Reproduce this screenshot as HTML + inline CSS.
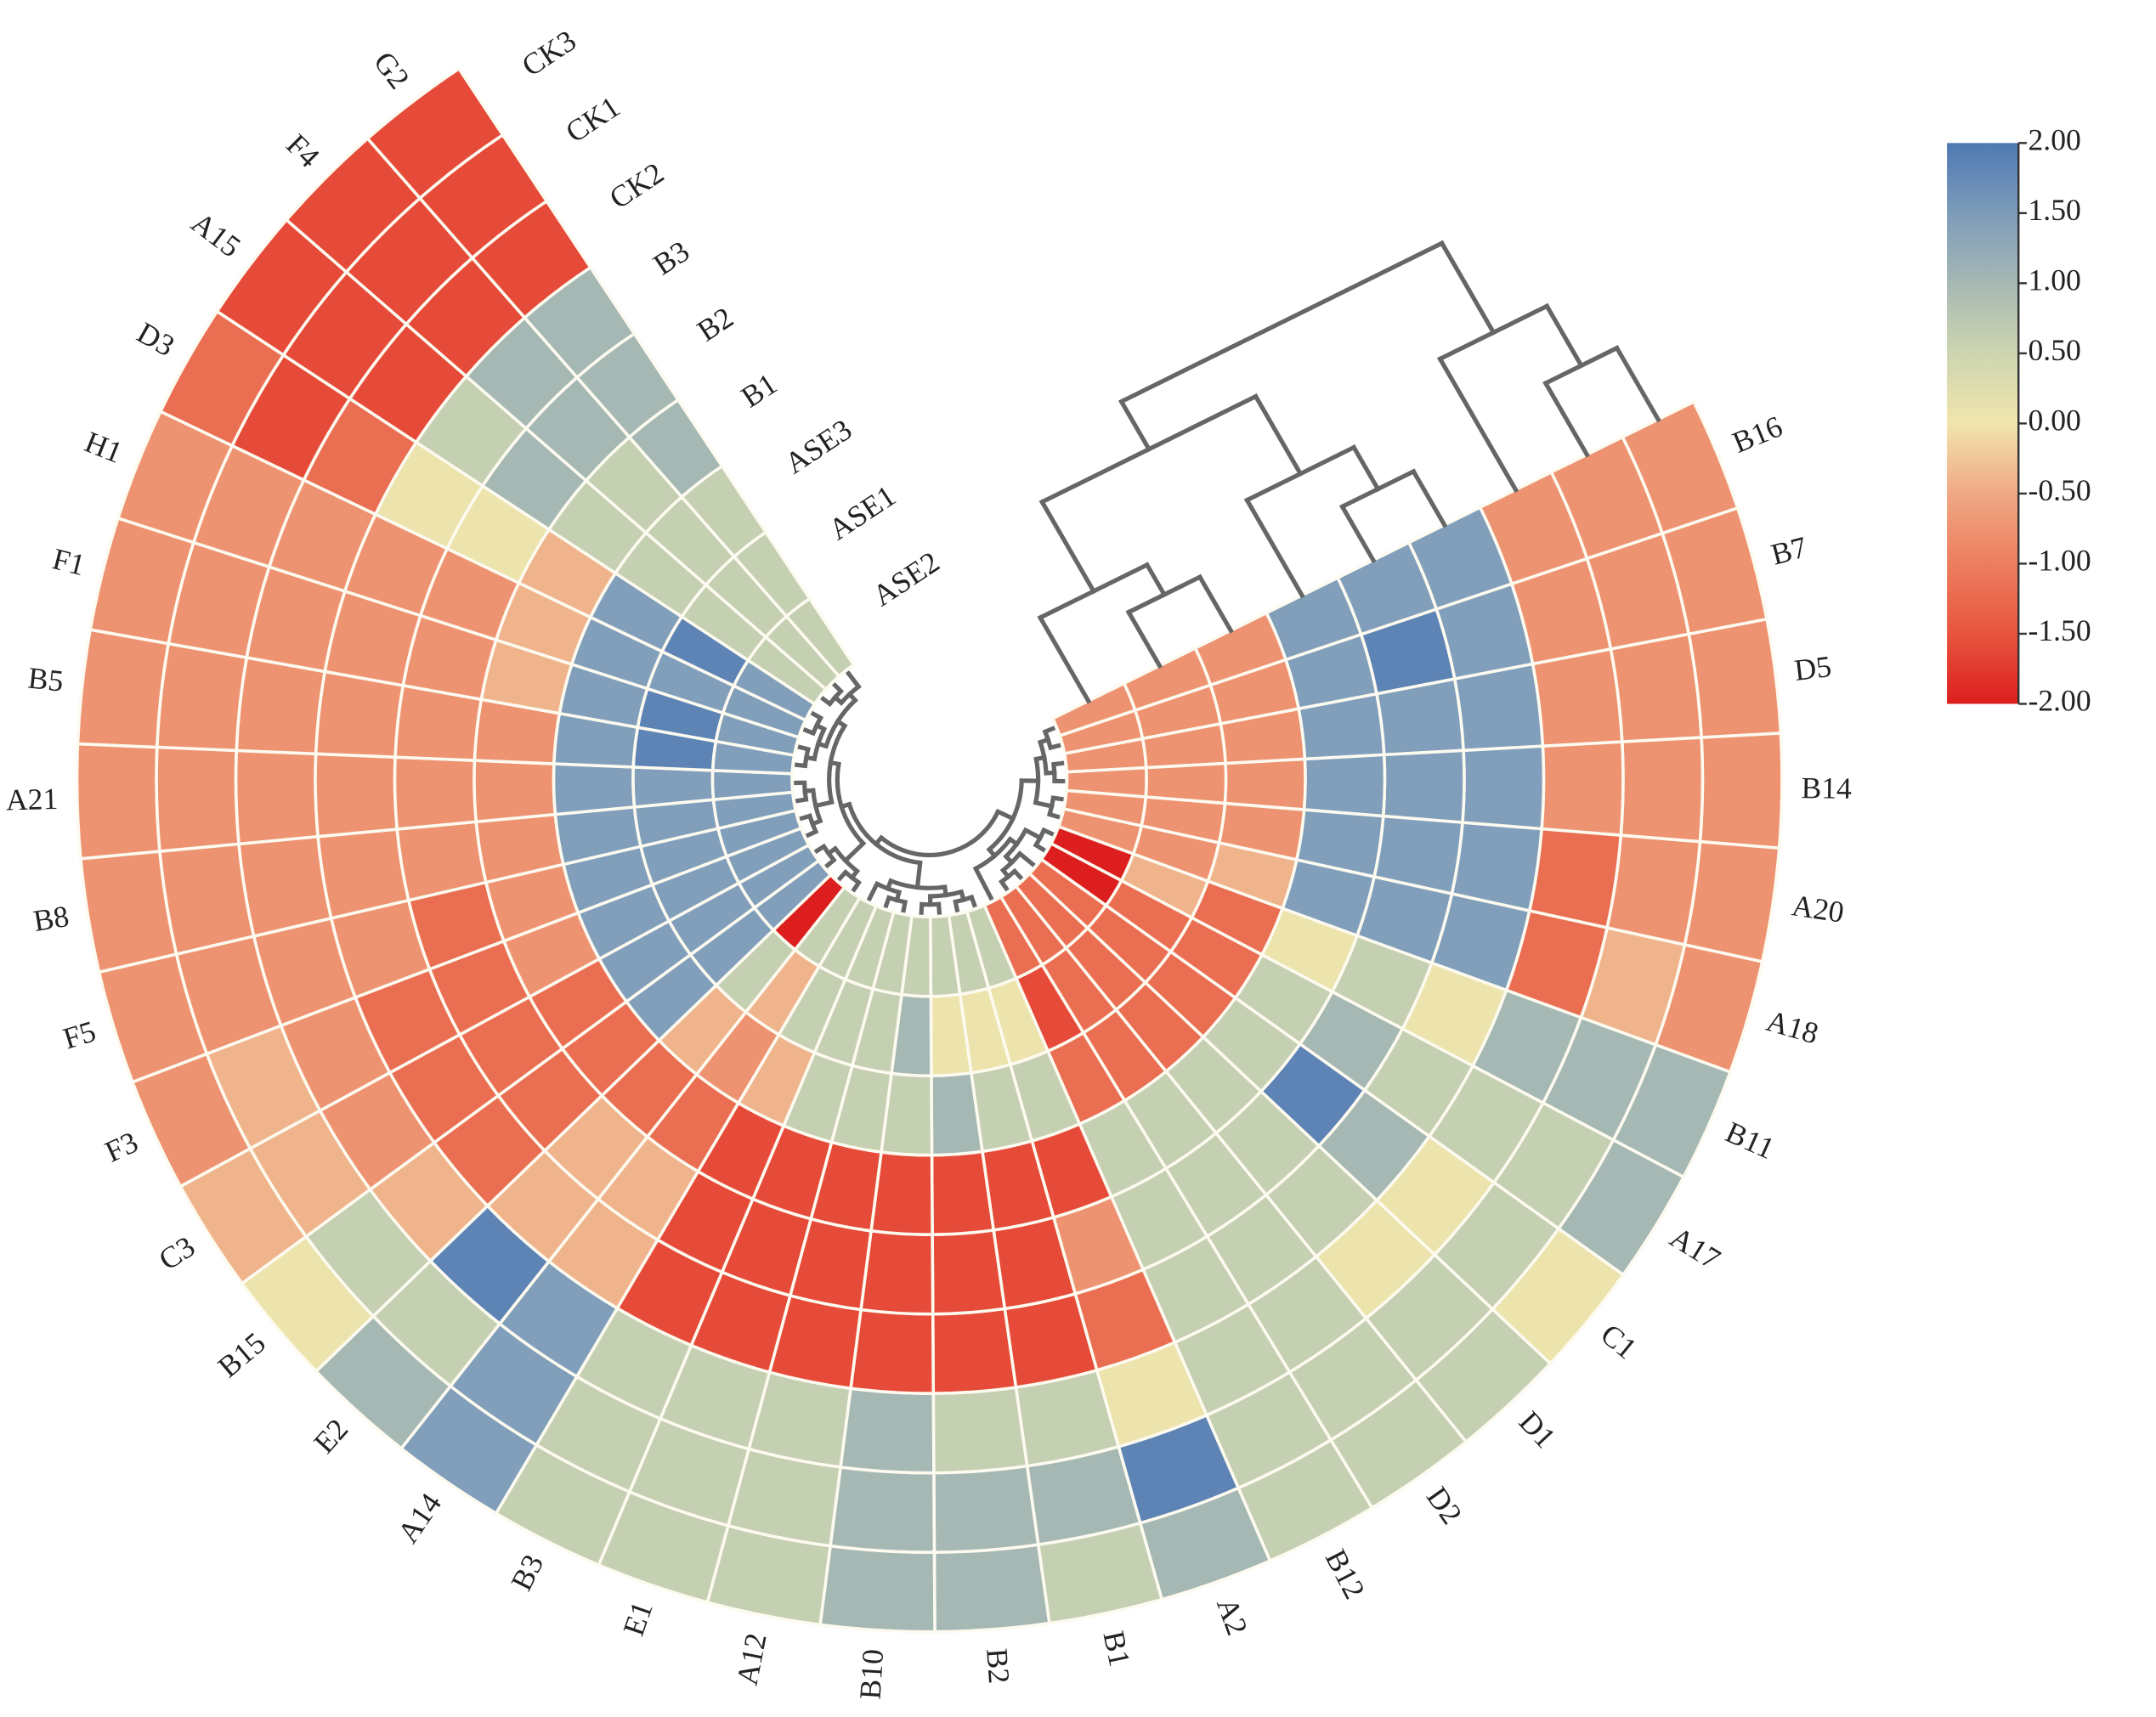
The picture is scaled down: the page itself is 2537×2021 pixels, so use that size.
<!DOCTYPE html>
<html><head><meta charset="utf-8"><style>
html,body{margin:0;padding:0;background:#fff;}
svg{display:block;}
text{font-family:"Liberation Serif",serif;fill:#222;}
</style></head><body>
<svg id="chart" xmlns="http://www.w3.org/2000/svg" width="2537" height="2021" viewBox="0 0 1568 1249">
<rect x="0" y="0" width="1568" height="1249" fill="#fff"/>
<defs><linearGradient id="cbgrad" x1="0" y1="1" x2="0" y2="0"></linearGradient></defs>
<g id="cells"></g>
<g id="rowdend"></g>
<g id="coldend"></g>
<g id="labels"></g>
<g id="colorbar"></g>
</svg>
<script>
const sectorLabels = ["B16","B7","D5","B14","A20","A18","B11","A17","C1","D1","D2","B12","A2","B1","B2","B10","A12","E1","B3","A14","E2","B15","C3","F3","F5","B8","A21","B5","F1","H1","D3","A15","F4","G2"];
const ringLabels = ["CK3","CK1","CK2","B3","B2","B1","ASE3","ASE1","ASE2"];
const ck3Values = [-0.75,-0.75,-0.75,-0.75,-0.75,-0.75,1.0,1.0,0.05,0.6,0.6,0.6,1.0,0.6,1.0,1.0,0.6,0.6,0.6,1.45,1.0,0.05,-0.4,-0.75,-0.75,-0.75,-0.75,-0.75,-0.75,-0.75,-1.2,-1.6,-1.6,-1.6];
const ck1Values = [-0.75,-0.75,-0.75,-0.75,-0.75,-0.4,1.0,0.6,0.6,0.6,0.6,0.6,1.85,1.0,1.0,1.0,0.6,0.6,0.6,1.45,0.6,0.6,-0.4,-0.4,-0.75,-0.75,-0.75,-0.75,-0.75,-0.75,-1.6,-1.6,-1.6,-1.6];
const ck2Values = [-0.75,-0.75,-0.75,-0.75,-1.2,-1.2,1.0,0.6,0.05,0.05,0.6,0.6,0.05,0.6,0.6,1.0,0.6,0.6,0.6,1.45,1.85,-0.4,-0.75,-0.75,-0.75,-0.75,-0.75,-0.75,-0.75,-0.75,-1.2,-1.6,-1.6,-1.6];
const b3Values = [1.45,1.45,1.45,1.45,1.45,1.45,0.05,0.6,1.0,0.6,0.6,0.6,-1.2,-1.6,-1.6,-1.6,-1.6,-1.6,-1.6,-0.4,-0.4,-1.2,-1.2,-1.2,-0.75,-0.75,-0.75,-0.75,-0.75,-0.75,0.05,0.6,1.0,1.0];
const b2Values = [1.45,1.85,1.45,1.45,1.45,1.45,0.6,1.0,1.85,0.6,0.6,0.6,-0.75,-1.6,-1.6,-1.6,-1.6,-1.6,-1.6,-0.4,-0.4,-1.2,-1.2,-1.2,-1.2,-0.75,-0.75,-0.75,-0.75,-0.75,0.05,1.0,1.0,1.0];
const b1Values = [1.45,1.45,1.45,1.45,1.45,1.45,0.05,0.6,0.6,0.6,0.6,0.6,-1.6,-1.6,-1.6,-1.6,-1.6,-1.6,-1.6,-1.2,-1.2,-1.2,-1.2,-0.75,-0.75,-0.75,-0.75,-0.75,-0.4,-0.4,-0.4,0.6,0.6,1.0];
const ase3Values = [-0.75,-0.75,-0.75,-0.75,-0.75,-0.4,-1.2,-1.2,-1.2,-1.2,-1.2,-1.2,0.6,0.6,1.0,0.6,0.6,0.6,-0.4,-0.75,-0.4,1.45,1.45,1.45,1.45,1.45,1.45,1.45,1.45,1.45,1.45,0.6,0.6,0.6];
const ase1Values = [-0.75,-0.75,-0.75,-0.75,-0.75,-0.75,-0.4,-1.2,-1.2,-1.2,-1.2,-1.6,0.05,0.05,0.05,1.0,0.6,0.6,0.6,-0.4,0.6,1.45,1.45,1.45,1.45,1.45,1.45,1.85,1.85,1.45,1.85,0.6,0.6,0.6];
const ase2Values = [-0.75,-0.75,-0.75,-0.75,-0.75,-0.75,-2.0,-2.0,-1.2,-1.2,-1.2,-1.2,0.6,0.6,0.6,0.6,0.6,0.6,0.6,0.6,-2.0,1.45,1.45,1.45,1.45,1.45,1.45,1.45,1.45,1.45,1.45,0.6,0.6,0.6];
const ringValues = [ck3Values,ck1Values,ck2Values,b3Values,b2Values,b1Values,ase3Values,ase1Values,ase2Values];
const colorStopValues = [-2,-1.5,-1,-0.5,0,0.5,1,1.5,2];
const colorStopColors = ["#dc1e1e","#e8553f","#ec7e5f","#f0a884","#f1e5ac","#cdd5b0","#a6b8b4","#7d9cbb","#4f79b2"];
const legendTicks = [2,1.5,1,0.5,0,-0.5,-1,-1.5,-2];
const rowTree = [[[[[0,1],[2,3]],[4,5]],[[[6,7],[8,[9,10]]],11]],[[[[12,13],[14,15]],[[16,17],18]],[[[19,20],[21,22]],[[[23,24],[25,26]],[[[27,28],[29,30]],[[31,32],33]]]]]];
const colTree = [[[[6,7],8],[[3,4],5]],[[0,1],2]];
const colTreeHeights = {"6,7":45,"6,7,8":70,"3,4":45,"3,4,5":80,"0,1":60,"0,1,2":110,"3,4,5,6,7,8":145,"0,1,2,3,4,5,6,7,8":185};

const NS="http://www.w3.org/2000/svg";
const CX=676, CY=567, R_OUT=620, R_IN=100;
const A0=63.7, A1=326.5;
const nS=sectorLabels.length, nR=ringLabels.length;
const W=(R_OUT-R_IN)/nR, DA=(A1-A0)/nS;
function ang(i){return A0+i*DA;}
function rad(k){return R_OUT-k*W;}
function pt(a,r){const t=a*Math.PI/180;return [CX+r*Math.sin(t),CY-r*Math.cos(t)];}
function hex2rgb(h){return [parseInt(h.substr(1,2),16),parseInt(h.substr(3,2),16),parseInt(h.substr(5,2),16)];}
function color(v){
  v=Math.max(-2,Math.min(2,v));
  for(let i=0;i<colorStopValues.length-1;i++){
    if(v<=colorStopValues[i+1]){
      const t=(v-colorStopValues[i])/(colorStopValues[i+1]-colorStopValues[i]);
      const a=hex2rgb(colorStopColors[i]),b=hex2rgb(colorStopColors[i+1]);
      return "rgb("+a.map((x,j)=>Math.round(x+(b[j]-x)*t)).join(",")+")";
    }
  }
  return colorStopColors[colorStopColors.length-1];
}
function mk(tag,attrs,parent){const e=document.createElementNS(NS,tag);for(const k in attrs)e.setAttribute(k,attrs[k]);parent.appendChild(e);return e;}

// cells
const cellsG=document.getElementById("cells");
for(let k=0;k<nR;k++){
  for(let i=0;i<nS;i++){
    const a0=ang(i),a1=ang(i+1),ro=rad(k),ri=rad(k+1);
    const p1=pt(a0,ro),p2=pt(a1,ro),p3=pt(a1,ri),p4=pt(a0,ri);
    const d="M"+p1+" A"+ro+","+ro+" 0 0 1 "+p2+" L"+p3+" A"+ri+","+ri+" 0 0 0 "+p4+" Z";
    const c=mk("path",{d:d,fill:color(ringValues[k][i]),stroke:"#fdfaf0","stroke-width":"2.2"},cellsG);
    
    
  }
}

// sector labels
const labG=document.getElementById("labels");
for(let i=0;i<nS;i++){
  const a=ang(i+0.5);
  const p=pt(a,R_OUT+14);
  let rot,anchor;
  if(a<180){rot=a-90;anchor="start";}else{rot=a+90;anchor="end";}
  const t=mk("text",{x:p[0],y:p[1],"font-size":"22","text-anchor":anchor,"dominant-baseline":"middle",transform:"rotate("+rot+" "+p[0]+" "+p[1]+")"},labG);
  t.textContent=sectorLabels[i];
  
  
}
// ring labels
for(let k=0;k<nR;k++){
  const r=(rad(k)+rad(k+1))/2;
  const e=pt(A1,r);
  const tr=A1*Math.PI/180;
  const perp=[Math.cos(tr),Math.sin(tr)];
  const x=e[0]+perp[0]*40, y=e[1]+perp[1]*40;
  const t=mk("text",{x:x,y:y,"font-size":"22","text-anchor":"start","dominant-baseline":"middle",transform:"rotate("+(A1-360)+" "+x+" "+y+")"},labG);
  t.textContent=ringLabels[k];
  
  
}

// row dendrogram (circular)
const rdG=document.getElementById("rowdend");
const LEAF_R=R_IN-3;
function level(n){return Array.isArray(n)?1+Math.max(level(n[0]),level(n[1])):0;}
const maxLev=level(rowTree);
const STEP=(LEAF_R-55)/maxLev;
function drawRow(n){
  if(!Array.isArray(n)) return {a:ang(n+0.5),r:LEAF_R};
  const c1=drawRow(n[0]),c2=drawRow(n[1]);
  const r=LEAF_R-STEP*level(n);
  [c1,c2].forEach(c=>{
    const p=pt(c.a,c.r),q=pt(c.a,r);
    const l=mk("line",{x1:p[0],y1:p[1],x2:q[0],y2:q[1],stroke:"#666","stroke-width":"3.2","stroke-linecap":"square"},rdG);
    
    
  });
  const p=pt(c1.a,r),q=pt(c2.a,r);
  const large=(c2.a-c1.a)>180?1:0;
  const arc=mk("path",{d:"M"+p+" A"+r+","+r+" 0 "+large+" 1 "+q,fill:"none",stroke:"#666","stroke-width":"3.2"},rdG);
  
  
  return {a:(c1.a+c2.a)/2,r:r};
}
drawRow(rowTree);

// column dendrogram
const cdG=document.getElementById("coldend");
const ta=A0*Math.PI/180;
const U=[Math.sin(ta),-Math.cos(ta)];
const N=[-0.5,-0.866];
function leaves(n){return Array.isArray(n)?leaves(n[0]).concat(leaves(n[1])):[n];}
function cpt(s,h){return [CX+s*U[0]+h*N[0],CY+s*U[1]+h*N[1]];}
function drawCol(n){
  if(!Array.isArray(n)) return {s:(rad(n)+rad(n+1))/2,h:0};
  const c1=drawCol(n[0]),c2=drawCol(n[1]);
  const key=leaves(n).sort((a,b)=>a-b).join(",");
  const h=colTreeHeights[key];
  [c1,c2].forEach(c=>{
    const p=cpt(c.s,c.h),q=cpt(c.s,h);
    const l=mk("line",{x1:p[0],y1:p[1],x2:q[0],y2:q[1],stroke:"#666","stroke-width":"3.2","stroke-linecap":"square"},cdG);
    
    
  });
  const p=cpt(c1.s,h),q=cpt(c2.s,h);
  const l=mk("line",{x1:p[0],y1:p[1],x2:q[0],y2:q[1],stroke:"#666","stroke-width":"3.2","stroke-linecap":"square"},cdG);
  
  
  return {s:(c1.s+c2.s)/2,h:h};
}
drawCol(colTree);

// colorbar
const grad=document.getElementById("cbgrad");
colorStopValues.forEach((v,i)=>{
  mk("stop",{offset:((v+2)/4*100)+"%","stop-color":colorStopColors[i]},grad);
});
const cbG=document.getElementById("colorbar");
const CBX=1416,CBY=104,CBW=52,CBH=408;
const bar=mk("rect",{x:CBX,y:CBY,width:CBW,height:CBH,fill:"url(#cbgrad)"},cbG);


const axl=mk("line",{x1:CBX+CBW,y1:CBY,x2:CBX+CBW,y2:CBY+CBH,stroke:"#333","stroke-width":"1.5"},cbG);


legendTicks.forEach(v=>{
  const y=CBY+(2-v)/4*CBH;
  const tk=mk("line",{x1:CBX+CBW,y1:y,x2:CBX+CBW+6,y2:y,stroke:"#333","stroke-width":"1.5"},cbG);
  
  
  const t=mk("text",{x:CBX+CBW+7,y:y,"font-size":"22","dominant-baseline":"middle"},cbG);
  t.textContent=v.toFixed(2);
  
  
});
</script>
</body></html>
